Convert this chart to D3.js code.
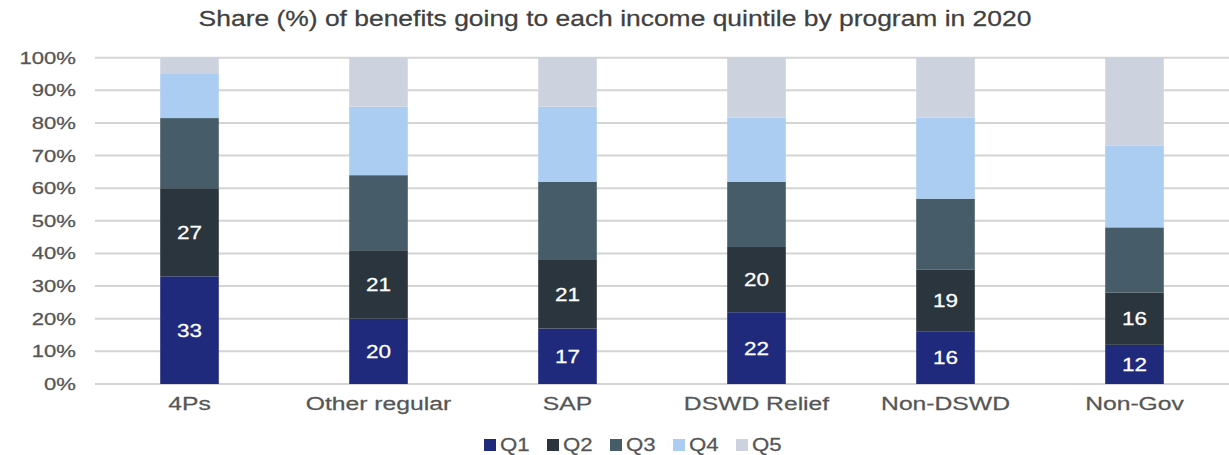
<!DOCTYPE html>
<html>
<head>
<meta charset="utf-8">
<script src="https://cdn.jsdelivr.net/npm/d3@7"></script>
<style>
  html, body { margin: 0; padding: 0; background: #ffffff; }
  svg { display: block; font-family: "Liberation Sans", Arial, sans-serif; }
  svg text { stroke-width: 0.25px; }
</style>
</head>
<body>
<svg id="chart" width="1229" height="455"></svg>
<script>
// Programs along the x axis
const programs = ["4Ps", "Other regular", "SAP", "DSWD Relief", "Non-DSWD", "Non-Gov"];

// Share (%) of benefits per quintile, one array per quintile, in program order
const q1 = [33, 20, 17, 22, 16, 12];
const q2 = [27, 21, 21, 20, 19, 16];
const q3 = [21.5, 23, 24, 20, 21.8, 20];
const q4 = [13.5, 21, 23, 19.6, 24.8, 25];
const q5 = [5, 15, 15, 18.4, 18.4, 27];

const quintiles = ["Q1", "Q2", "Q3", "Q4", "Q5"];
const quintileColors = ["#1f2a7c", "#2b353e", "#475c69", "#abcdf1", "#ccd3df"];

// Quintiles whose values are printed inside the bars
const labelledQuintiles = ["Q1", "Q2"];

// Y axis tick values and their labels
const yTicks = [0, 10, 20, 30, 40, 50, 60, 70, 80, 90, 100];
const yTickLabels = yTicks.map(d => d + "%");

const chartTitle = "Share (%) of benefits going to each income quintile by program in 2020";

// ---- build stacked rows ----
const seriesValues = [q1, q2, q3, q4, q5];
const rows = programs.map((p, i) => {
  const r = { program: p };
  quintiles.forEach((q, k) => { r[q] = seriesValues[k][i]; });
  return r;
});
const stacked = d3.stack().keys(quintiles)(rows);

// ---- layout ----
const svg = d3.select("#chart");
const W = 1229;
const plot = { left: 95, right: 1229, top: 57.7, bottom: 384 };

const x = d3.scaleBand()
  .domain(programs)
  .range([plot.left, plot.right])
  .paddingInner(0.69)
  .paddingOuter(0.345);

const y = d3.scaleLinear()
  .domain([0, 100])
  .range([plot.bottom, plot.top]);

const color = d3.scaleOrdinal().domain(quintiles).range(quintileColors);

// Text in this chart is set wide; a horizontal stretch is applied per group
const stretch = { title: 1.23, tick: 1.3, category: 1.3, value: 1.25, legend: 1.17 };

const axisGrey = "#555555";

// ---- title ----
svg.append("text")
  .attr("transform", `translate(${W / 2 + 0.5},26) scale(${stretch.title},1)`)
  .attr("text-anchor", "middle")
  .attr("font-size", 21.5)
  .attr("fill", "#404040")
  .attr("stroke", "#404040")
  .text(chartTitle);

// ---- gridlines ----
svg.append("g")
  .selectAll("line")
  .data(yTicks)
  .join("line")
  .attr("x1", plot.left)
  .attr("x2", plot.right)
  .attr("y1", d => y(d))
  .attr("y2", d => y(d))
  .attr("stroke", "#d4d4d4")
  .attr("stroke-width", 2);

// ---- y tick labels ----
svg.append("g")
  .selectAll("text")
  .data(yTicks)
  .join("text")
  .attr("transform", d => `translate(76,${y(d) + 6}) scale(${stretch.tick},1)`)
  .attr("text-anchor", "end")
  .attr("font-size", 17)
  .attr("fill", axisGrey)
  .attr("stroke", axisGrey)
  .text((d, i) => yTickLabels[i]);

// ---- stacked bars ----
svg.append("g")
  .selectAll("g")
  .data(stacked)
  .join("g")
  .attr("fill", d => color(d.key))
  .selectAll("rect")
  .data(d => d)
  .join("rect")
  .attr("x", d => x(d.data.program))
  .attr("width", x.bandwidth())
  .attr("y", d => y(d[1]))
  .attr("height", d => y(d[0]) - y(d[1]));

// ---- value labels inside Q1 and Q2 segments ----
svg.append("g")
  .selectAll("g")
  .data(stacked.filter(s => labelledQuintiles.includes(s.key)))
  .join("g")
  .selectAll("text")
  .data(d => d.map(seg => ({ seg, key: d.key })))
  .join("text")
  .attr("transform", d => {
    const cx = x(d.seg.data.program) + x.bandwidth() / 2;
    const cy = y((d.seg[0] + d.seg[1]) / 2) + 6.5;
    return `translate(${cx},${cy}) scale(${stretch.value},1)`;
  })
  .attr("text-anchor", "middle")
  .attr("font-size", 18)
  .attr("fill", "#ffffff")
  .attr("stroke", "#ffffff")
  .text(d => d3.format(".0f")(d.seg.data[d.key]));

// ---- x axis category labels ----
const xAxis = svg.append("g")
  .attr("transform", `translate(0,${plot.bottom})`)
  .call(d3.axisBottom(x).tickSize(0).tickPadding(0));
xAxis.select(".domain").remove();
xAxis.selectAll(".tick text")
  .attr("y", 0)
  .attr("dy", 0)
  .attr("transform", `translate(0,26) scale(${stretch.category},1)`)
  .attr("font-family", "Liberation Sans, Arial, sans-serif")
  .attr("font-size", 19)
  .attr("fill", axisGrey)
  .attr("stroke", axisGrey);

// ---- legend ----
const legendStep = 63;
const legend = svg.append("g").attr("transform", "translate(484,0)");
const items = legend.selectAll("g")
  .data(quintiles)
  .join("g")
  .attr("transform", (d, i) => `translate(${i * legendStep},0)`);
items.append("rect")
  .attr("x", 0)
  .attr("y", 439)
  .attr("width", 12)
  .attr("height", 12)
  .attr("fill", d => color(d));
items.append("text")
  .attr("transform", `translate(16,451) scale(${stretch.legend},1)`)
  .attr("font-size", 19)
  .attr("fill", axisGrey)
  .attr("stroke", axisGrey)
  .text(d => d);
</script>
</body>
</html>
